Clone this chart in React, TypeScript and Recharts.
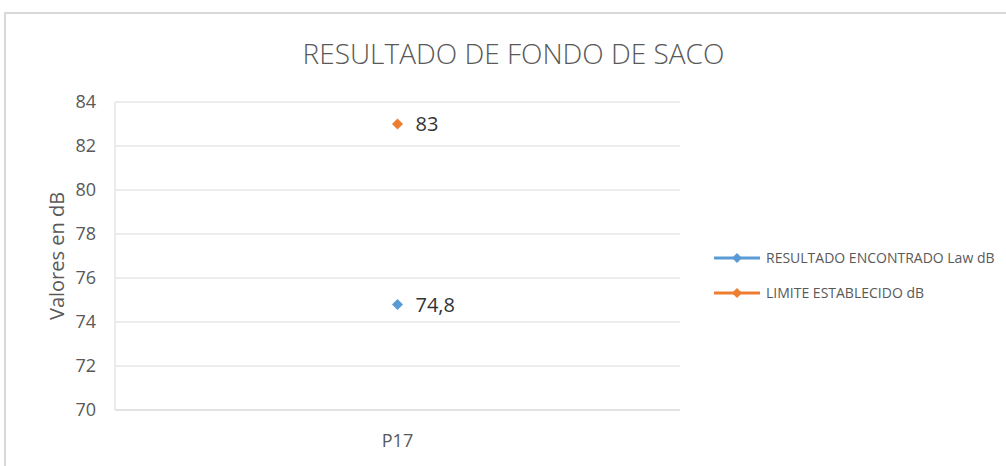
import React from 'react'
import { LineChart, Line, XAxis, YAxis, CartesianGrid, LabelList } from 'recharts'

const categories = ['P17']
const resultadoValues = [74.8]
const limiteValues = [83]
const yTicks = [70, 72, 74, 76, 78, 80, 82, 84]

const BLUE = '#5B9BD5'
const ORANGE = '#ED7D31'
const FONT = '"Open Sans", "Liberation Sans", sans-serif'

const data = categories.map((name, i) => ({
  name,
  resultado: resultadoValues[i],
  limite: limiteValues[i],
}))

const Diamond = (props: any) => {
  const { cx, cy, fill } = props
  if (cx == null || cy == null) return null
  const r = 5.5
  return <polygon points={`${cx},${cy - r} ${cx + r},${cy} ${cx},${cy + r} ${cx - r},${cy}`} fill={fill} />
}

const fmt = (v: any) => String(v).replace('.', ',')

const legendItems = [
  { label: 'RESULTADO ENCONTRADO Law dB', color: BLUE },
  { label: 'LIMITE ESTABLECIDO dB', color: ORANGE },
]

const LegendBox = () => (
  <div style={{ position: 'absolute', left: 712, top: 240, fontFamily: FONT }}>
    {legendItems.map((it) => (
      <div key={it.label} style={{ display: 'flex', alignItems: 'center', height: 35 }}>
        <svg width={50} height={12} style={{ marginRight: 4 }}>
          <line x1={2} y1={6} x2={48} y2={6} stroke={it.color} strokeWidth={3} />
          <polygon points="25,1 30,6 25,11 20,6" fill={it.color} />
        </svg>
        <span style={{ fontSize: 14, color: '#595959', whiteSpace: 'nowrap' }}>{it.label}</span>
      </div>
    ))}
  </div>
)

export default function App() {
  return (
    <div style={{ position: 'absolute', left: 0, top: 0, width: 1006, height: 466, overflow: 'hidden', background: '#fff' }}>
      <div
        style={{
          position: 'absolute',
          left: 4,
          top: 12,
          width: 1020,
          height: 480,
          border: '2px solid #d9d9d9',
          boxSizing: 'border-box',
        }}
      />
      <div
        style={{
          position: 'absolute',
          left: 0,
          top: 34,
          width: 1027,
          textAlign: 'center',
          fontFamily: FONT,
          fontWeight: 300,
          fontSize: 28,
          color: '#595959',
        }}
      >
        RESULTADO DE FONDO DE SACO
      </div>
      <div style={{ position: 'absolute', left: 0, top: 0 }}>
        <LineChart width={1006} height={466} data={data} margin={{ top: 102, right: 326, bottom: 0, left: 0 }}>
          <CartesianGrid vertical={false} stroke="#d9d9d9" />
          <XAxis
            dataKey="name"
            height={56}
            axisLine={{ stroke: '#d9d9d9' }}
            tickLine={false}
            tickSize={0}
            tickMargin={24}
            tick={{ fill: '#595959', fontSize: 18, fontFamily: FONT }}
          />
          <YAxis
            width={115}
            domain={[70, 84]}
            ticks={yTicks}
            interval={0}
            axisLine={{ stroke: '#d9d9d9' }}
            tickLine={false}
            tickSize={0}
            tickMargin={19}
            tick={{ fill: '#595959', fontSize: 18, fontFamily: FONT }}
            label={{
              value: 'Valores en  dB',
              angle: -90,
              position: 'insideLeft',
              offset: 57,
              style: { textAnchor: 'middle', fill: '#595959', fontSize: 20, fontFamily: FONT },
            }}
          />
          <Line
            dataKey="resultado"
            name="RESULTADO ENCONTRADO Law dB"
            stroke={BLUE}
            strokeWidth={3}
            dot={<Diamond fill={BLUE} />}
            isAnimationActive={false}
          >
            <LabelList dataKey="resultado" position="right" offset={18} formatter={fmt} fill="#333333" fontSize={20} fontFamily={FONT} />
          </Line>
          <Line
            dataKey="limite"
            name="LIMITE ESTABLECIDO dB"
            stroke={ORANGE}
            strokeWidth={3}
            dot={<Diamond fill={ORANGE} />}
            isAnimationActive={false}
          >
            <LabelList dataKey="limite" position="right" offset={18} formatter={fmt} fill="#333333" fontSize={20} fontFamily={FONT} />
          </Line>
        </LineChart>
      </div>
      <LegendBox />
    </div>
  )
}
